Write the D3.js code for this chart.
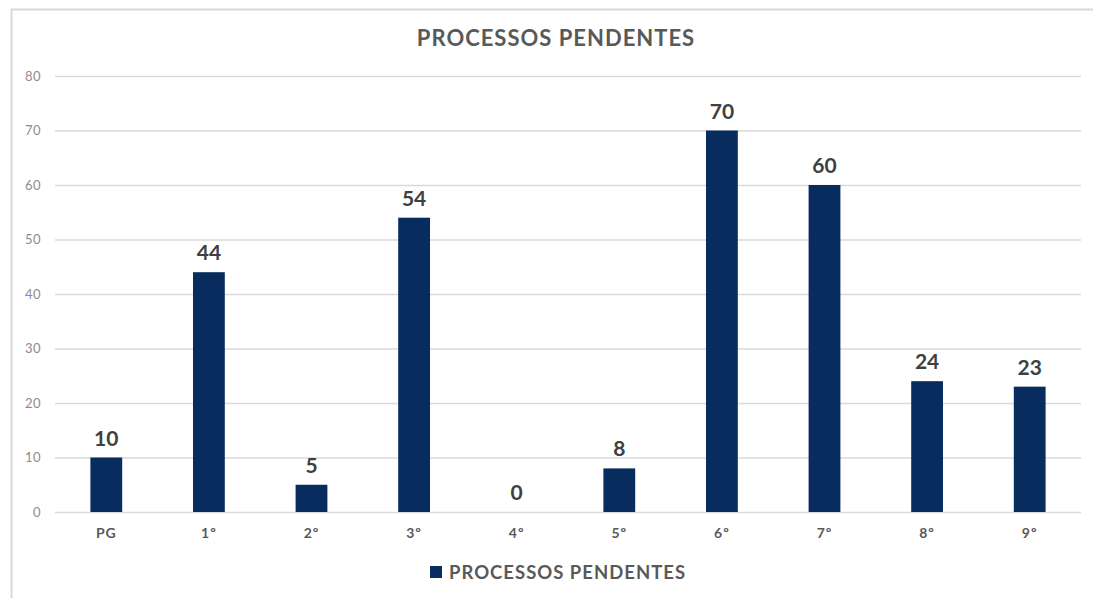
<!DOCTYPE html>
<html><head><meta charset="utf-8">
<script src="https://cdn.jsdelivr.net/npm/d3@7/dist/d3.min.js"></script>
<style>body{margin:0;background:#fff;} svg{display:block;}</style>
</head><body>
<svg id="c" width="1093" height="598"></svg>
<script>
const categories = ["PG","1º","2º","3º","4º","5º","6º","7º","8º","9º"];
const values = [10,44,5,54,0,8,70,60,24,23];
const yTicks = [0,10,20,30,40,50,60,70,80];
const seriesName = "PROCESSOS PENDENTES";
const title = "PROCESSOS PENDENTES";

const svg = d3.select("#c");
const font = "'Lato','Open Sans',sans-serif";
const m = {left:55, right:1081, top:76, bottom:512};

// chart frame
svg.append("path").attr("d","M11.5,598 L11.5,9.5 L1093,9.5").attr("fill","none").attr("stroke","#d9d9d9").attr("stroke-width",2);

const x = d3.scaleBand().domain(categories).range([m.left, m.right]).paddingInner(0.69).paddingOuter(0.345);
const y = d3.scaleLinear().domain([0,80]).range([m.bottom, m.top]);

// gridlines
const yAxis = d3.axisLeft(y).tickValues(yTicks).tickSize(-(m.right-m.left)).tickPadding(14);
const gy = svg.append("g").attr("transform",`translate(${m.left},0)`).call(yAxis);
gy.select(".domain").remove();
gy.selectAll(".tick line").attr("stroke","#d9d9d9").attr("stroke-width",1.5);
gy.selectAll(".tick text").attr("fill","#8c8c8c").style("font-family",font).style("font-size","13px").style("letter-spacing","0.5px");

// bars
svg.append("g").selectAll("rect").data(values).join("rect")
  .attr("x",(d,i)=>x(categories[i]))
  .attr("width",x.bandwidth())
  .attr("y",d=>y(d))
  .attr("height",d=>y(0)-y(d))
  .attr("fill","#072c5d");

// value labels
svg.append("g").selectAll("text").data(values).join("text")
  .attr("x",(d,i)=>x(categories[i])+x.bandwidth()/2)
  .attr("y",d=>y(d)-12)
  .attr("text-anchor","middle")
  .attr("fill","#404040")
  .style("font-family",font).style("font-weight","700").style("font-size","21px")
  .text(d=>d);

// x axis labels
const xAxis = d3.axisBottom(x).tickSize(0).tickPadding(16);
const gx = svg.append("g").attr("transform",`translate(0,${m.bottom})`).call(xAxis);
gx.select(".domain").remove();
gx.selectAll(".tick text").attr("fill","#595959").style("font-family",font).style("font-weight","700").style("font-size","14px").style("letter-spacing","1px");

// title
svg.append("text").attr("x",556).attr("y",46).attr("text-anchor","middle")
  .attr("fill","#595959").style("font-family",font).style("font-weight","700").style("font-size","22px").style("letter-spacing","1px")
  .text(title);

// legend
const lg = svg.append("g");
lg.append("rect").attr("x",430).attr("y",566).attr("width",12).attr("height",12).attr("fill","#072c5d");
lg.append("text").attr("x",449).attr("y",579).attr("fill","#595959")
  .style("font-family",font).style("font-weight","700").style("font-size","18.5px").style("letter-spacing","1px").text(seriesName);
</script>
</body></html>
